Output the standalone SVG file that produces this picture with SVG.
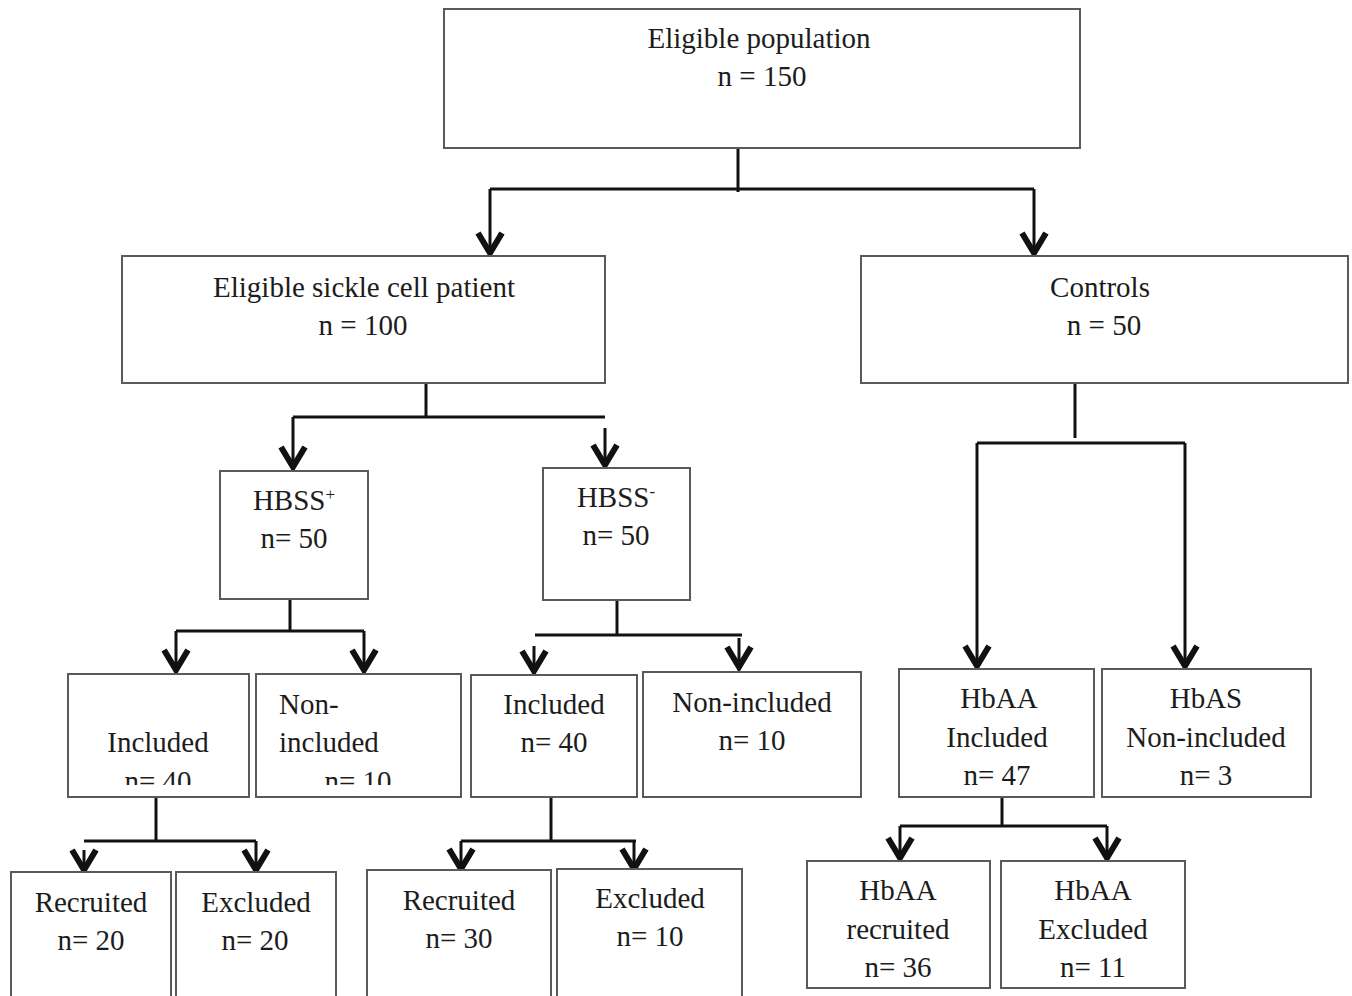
<svg xmlns="http://www.w3.org/2000/svg" width="1352" height="996" viewBox="0 0 1352 996">
<style>
.box{fill:#fff;stroke:#5a5a5a;stroke-width:2}
.t{font-family:"Liberation Serif","Times New Roman",serif;font-size:29px;fill:#1c1c1c;text-anchor:middle}
.tl{text-anchor:start}
.ln{fill:none;stroke:#111;stroke-width:3}
.ar{fill:none;stroke:#111;stroke-width:3}
</style>
<defs>
<marker id="ah" markerUnits="userSpaceOnUse" markerWidth="36" markerHeight="36" viewBox="-28 -18 36 36" refX="0" refY="0" orient="auto">
<path d="M-23,-12 L-3,0 L-23,12" fill="none" stroke="#111" stroke-width="6" stroke-linejoin="miter" stroke-miterlimit="10"/>
</marker>
<clipPath id="clipL"><rect x="60" y="660" width="410" height="125"/></clipPath>
</defs>
<rect width="1352" height="996" fill="#fff"/>

<g id="connectors">
<path class="ln" d="M738,148 V192"/>
<path class="ln" d="M490,189 H1034"/>
<path class="ar" d="M490,189 V256" marker-end="url(#ah)"/>
<path class="ar" d="M1034,189 V256" marker-end="url(#ah)"/>

<path class="ln" d="M426,383 V417"/>
<path class="ln" d="M293,417 H605"/>
<path class="ar" d="M293,417 V470" marker-end="url(#ah)"/>
<path class="ar" d="M605,428 V468" marker-end="url(#ah)"/>

<path class="ln" d="M290,599 V631"/>
<path class="ln" d="M176,631 H364"/>
<path class="ar" d="M176,631 V673" marker-end="url(#ah)"/>
<path class="ar" d="M364,631 V673" marker-end="url(#ah)"/>

<path class="ln" d="M617,600 V635"/>
<path class="ln" d="M535,635 H742"/>
<path class="ar" d="M534,646 V674" marker-end="url(#ah)"/>
<path class="ar" d="M739,638 V670" marker-end="url(#ah)"/>

<path class="ln" d="M156,797 V841"/>
<path class="ln" d="M84,841 H256"/>
<path class="ar" d="M84,850 V873" marker-end="url(#ah)"/>
<path class="ar" d="M256,841 V873" marker-end="url(#ah)"/>

<path class="ln" d="M551,797 V841"/>
<path class="ln" d="M461,841 H636"/>
<path class="ar" d="M461,841 V872" marker-end="url(#ah)"/>
<path class="ar" d="M634,841 V872" marker-end="url(#ah)"/>

<path class="ln" d="M1075,383 V438"/>
<path class="ln" d="M977,443 H1185"/>
<path class="ar" d="M977,443 V669" marker-end="url(#ah)"/>
<path class="ar" d="M1185,443 V669" marker-end="url(#ah)"/>

<path class="ln" d="M1002,797 V826"/>
<path class="ln" d="M900,826 H1107"/>
<path class="ar" d="M900,826 V861" marker-end="url(#ah)"/>
<path class="ar" d="M1107,826 V861" marker-end="url(#ah)"/>
</g>

<g font-family="Liberation Serif, Times New Roman, serif">
<g id="n_eligible">
<rect class="box" x="444" y="9" width="636" height="139"/>
<text class="t" x="759" y="48">Eligible population</text>
<text class="t" x="762" y="86">n = 150</text>
</g>

<g id="n_sickle">
<rect class="box" x="122" y="256" width="483" height="127"/>
<text class="t" x="364" y="297">Eligible sickle cell patient</text>
<text class="t" x="363" y="335">n = 100</text>
</g>

<g id="n_controls">
<rect class="box" x="861" y="256" width="487" height="127"/>
<text class="t" x="1100" y="297">Controls</text>
<text class="t" x="1104" y="335">n = 50</text>
</g>

<g id="n_hbss_pos">
<rect class="box" x="220" y="471" width="148" height="128"/>
<text class="t" x="294" y="510">HBSS<tspan font-size="17" dy="-10">+</tspan></text>
<text class="t" x="294" y="548">n= 50</text>
</g>

<g id="n_hbss_neg">
<rect class="box" x="543" y="468" width="147" height="132"/>
<text class="t" x="616" y="507">HBSS<tspan font-size="17" dy="-10">-</tspan></text>
<text class="t" x="616" y="545">n= 50</text>
</g>

<g id="n_incl_pos">
<rect class="box" x="68" y="674" width="181" height="123"/>
<text class="t" x="158" y="752">Included</text>
<text class="t" x="158" y="791" clip-path="url(#clipL)">n= 40</text>
</g>

<g id="n_nonincl_pos">
<rect class="box" x="256" y="674" width="205" height="123"/>
<text class="t tl" x="279" y="714">Non-</text>
<text class="t tl" x="279" y="752">included</text>
<text class="t" x="358" y="791" clip-path="url(#clipL)">n= 10</text>
</g>

<g id="n_incl_neg">
<rect class="box" x="471" y="675" width="166" height="122"/>
<text class="t" x="554" y="714">Included</text>
<text class="t" x="554" y="752">n= 40</text>
</g>

<g id="n_nonincl_neg">
<rect class="box" x="643" y="672" width="218" height="125"/>
<text class="t" x="752" y="712">Non-included</text>
<text class="t" x="752" y="750">n= 10</text>
</g>

<g id="n_hbaa">
<rect class="box" x="899" y="669" width="195" height="128"/>
<text class="t" x="999" y="708">HbAA</text>
<text class="t" x="997" y="747">Included</text>
<text class="t" x="997" y="785">n= 47</text>
</g>

<g id="n_hbas">
<rect class="box" x="1102" y="669" width="209" height="128"/>
<text class="t" x="1206" y="708">HbAS</text>
<text class="t" x="1206" y="747">Non-included</text>
<text class="t" x="1206" y="785">n= 3</text>
</g>

<g id="n_recr_pos">
<rect class="box" x="11" y="872" width="160" height="130"/>
<text class="t" x="91" y="912">Recruited</text>
<text class="t" x="91" y="950">n= 20</text>
</g>

<g id="n_excl_pos">
<rect class="box" x="176" y="872" width="160" height="130"/>
<text class="t" x="256" y="912">Excluded</text>
<text class="t" x="255" y="950">n= 20</text>
</g>

<g id="n_recr_neg">
<rect class="box" x="367" y="870" width="184" height="132"/>
<text class="t" x="459" y="910">Recruited</text>
<text class="t" x="459" y="948">n= 30</text>
</g>

<g id="n_excl_neg">
<rect class="box" x="557" y="869" width="185" height="133"/>
<text class="t" x="650" y="908">Excluded</text>
<text class="t" x="650" y="946">n= 10</text>
</g>

<g id="n_hbaa_recr">
<rect class="box" x="807" y="861" width="183" height="127"/>
<text class="t" x="898" y="900">HbAA</text>
<text class="t" x="898" y="939">recruited</text>
<text class="t" x="898" y="977">n= 36</text>
</g>

<g id="n_hbaa_excl">
<rect class="box" x="1001" y="861" width="184" height="127"/>
<text class="t" x="1093" y="900">HbAA</text>
<text class="t" x="1093" y="939">Excluded</text>
<text class="t" x="1093" y="977">n= 11</text>
</g>
</g>
</svg>
